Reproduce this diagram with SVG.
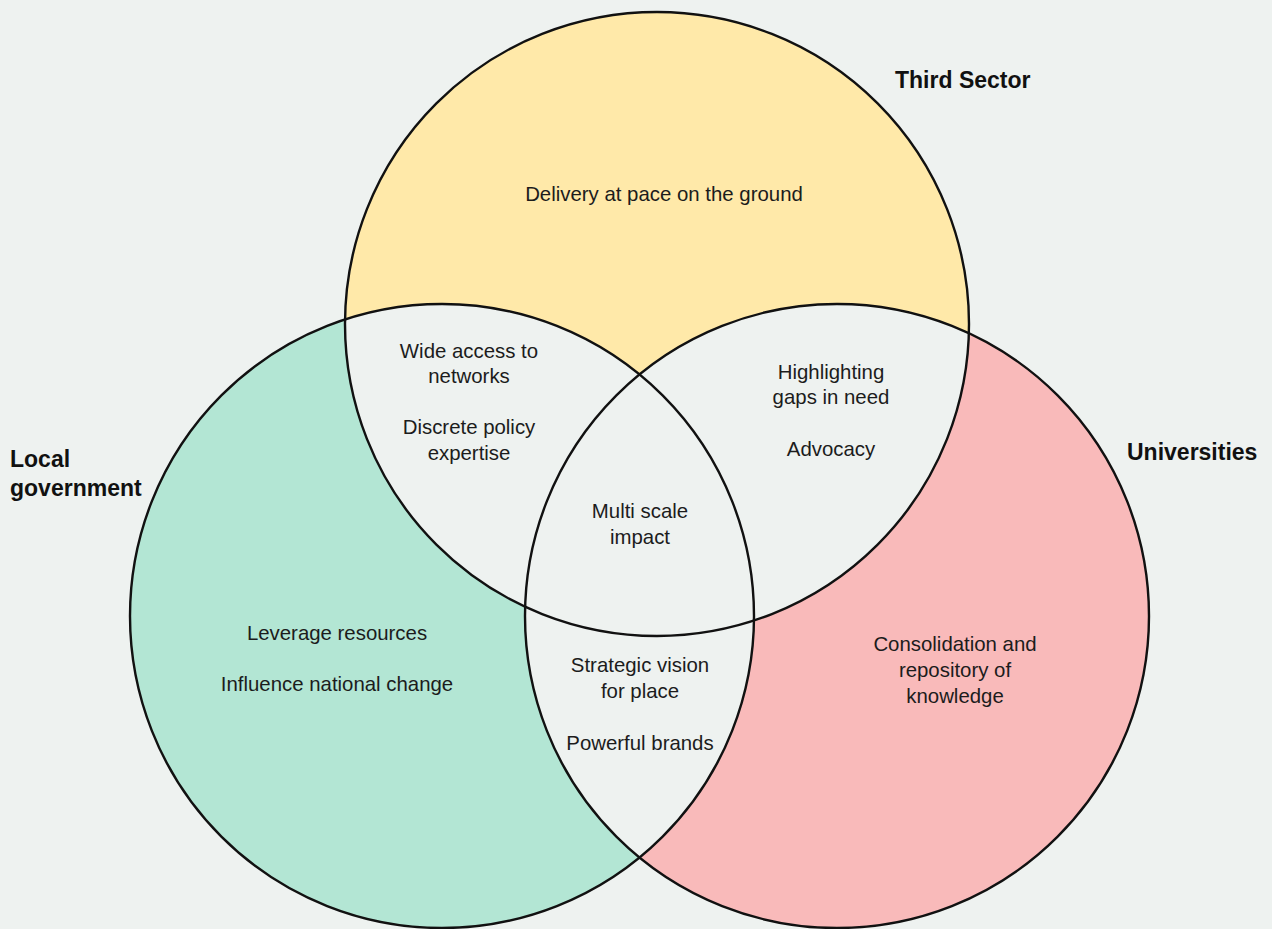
<svg xmlns="http://www.w3.org/2000/svg" width="1272" height="929" viewBox="0 0 1272 929">
  <style>
    .bg { fill: #eef2f0; }
    .ring { fill: none; stroke: #111; stroke-width: 2.4; }
    .txt { font-family: "Liberation Sans", Arial, sans-serif; font-size: 20.4px; fill: #1c1c1c; text-anchor: middle; }
    .title { font-family: "Liberation Sans", Arial, sans-serif; font-size: 23px; font-weight: bold; fill: #111; }
  </style>
  <defs>
    <circle id="cT" cx="657" cy="324" r="312"/>
    <circle id="cL" cx="442" cy="616" r="312"/>
    <circle id="cR" cx="837" cy="616" r="312"/>
    <clipPath id="clipT"><use href="#cT"/></clipPath>
    <clipPath id="clipL"><use href="#cL"/></clipPath>
  </defs>

  <rect class="bg" x="0" y="0" width="1272" height="929"/>

  <!-- coloured sets -->
  <g id="third-sector">
    <use href="#cT" fill="#ffe9a9"/>
  </g>
  <g id="local-government">
    <use href="#cL" fill="#b3e6d4"/>
  </g>
  <g id="universities">
    <use href="#cR" fill="#f9baba"/>
  </g>

  <!-- shared areas are left neutral -->
  <g id="overlaps" class="bg">
    <use href="#cL" clip-path="url(#clipT)"/>
    <use href="#cR" clip-path="url(#clipT)"/>
    <use href="#cR" clip-path="url(#clipL)"/>
  </g>

  <!-- circle outlines -->
  <g id="connectors">
    <use href="#cT" class="ring"/>
    <use href="#cL" class="ring"/>
    <use href="#cR" class="ring"/>
  </g>

  <!-- set titles -->
  <g id="titles">
    <text class="title" x="895" y="88">Third Sector</text>
    <text class="title" x="10" y="467">Local</text>
    <text class="title" x="10" y="496">government</text>
    <text class="title" x="1127" y="460">Universities</text>
  </g>

  <!-- region labels -->
  <g id="label-third">
    <text class="txt" x="664" y="201">Delivery at pace on the ground</text>
  </g>
  <g id="label-third-local">
    <text class="txt" x="469" y="358">Wide access to</text>
    <text class="txt" x="469" y="383">networks</text>
    <text class="txt" x="469" y="434">Discrete policy</text>
    <text class="txt" x="469" y="460">expertise</text>
  </g>
  <g id="label-third-uni">
    <text class="txt" x="831" y="379">Highlighting</text>
    <text class="txt" x="831" y="404">gaps in need</text>
    <text class="txt" x="831" y="456">Advocacy</text>
  </g>
  <g id="label-all">
    <text class="txt" x="640" y="518">Multi scale</text>
    <text class="txt" x="640" y="544">impact</text>
  </g>
  <g id="label-local">
    <text class="txt" x="337" y="640">Leverage resources</text>
    <text class="txt" x="337" y="691">Influence national change</text>
  </g>
  <g id="label-local-uni">
    <text class="txt" x="640" y="672">Strategic vision</text>
    <text class="txt" x="640" y="698">for place</text>
    <text class="txt" x="640" y="750">Powerful brands</text>
  </g>
  <g id="label-uni">
    <text class="txt" x="955" y="651">Consolidation and</text>
    <text class="txt" x="955" y="677">repository of</text>
    <text class="txt" x="955" y="703">knowledge</text>
  </g>
</svg>
